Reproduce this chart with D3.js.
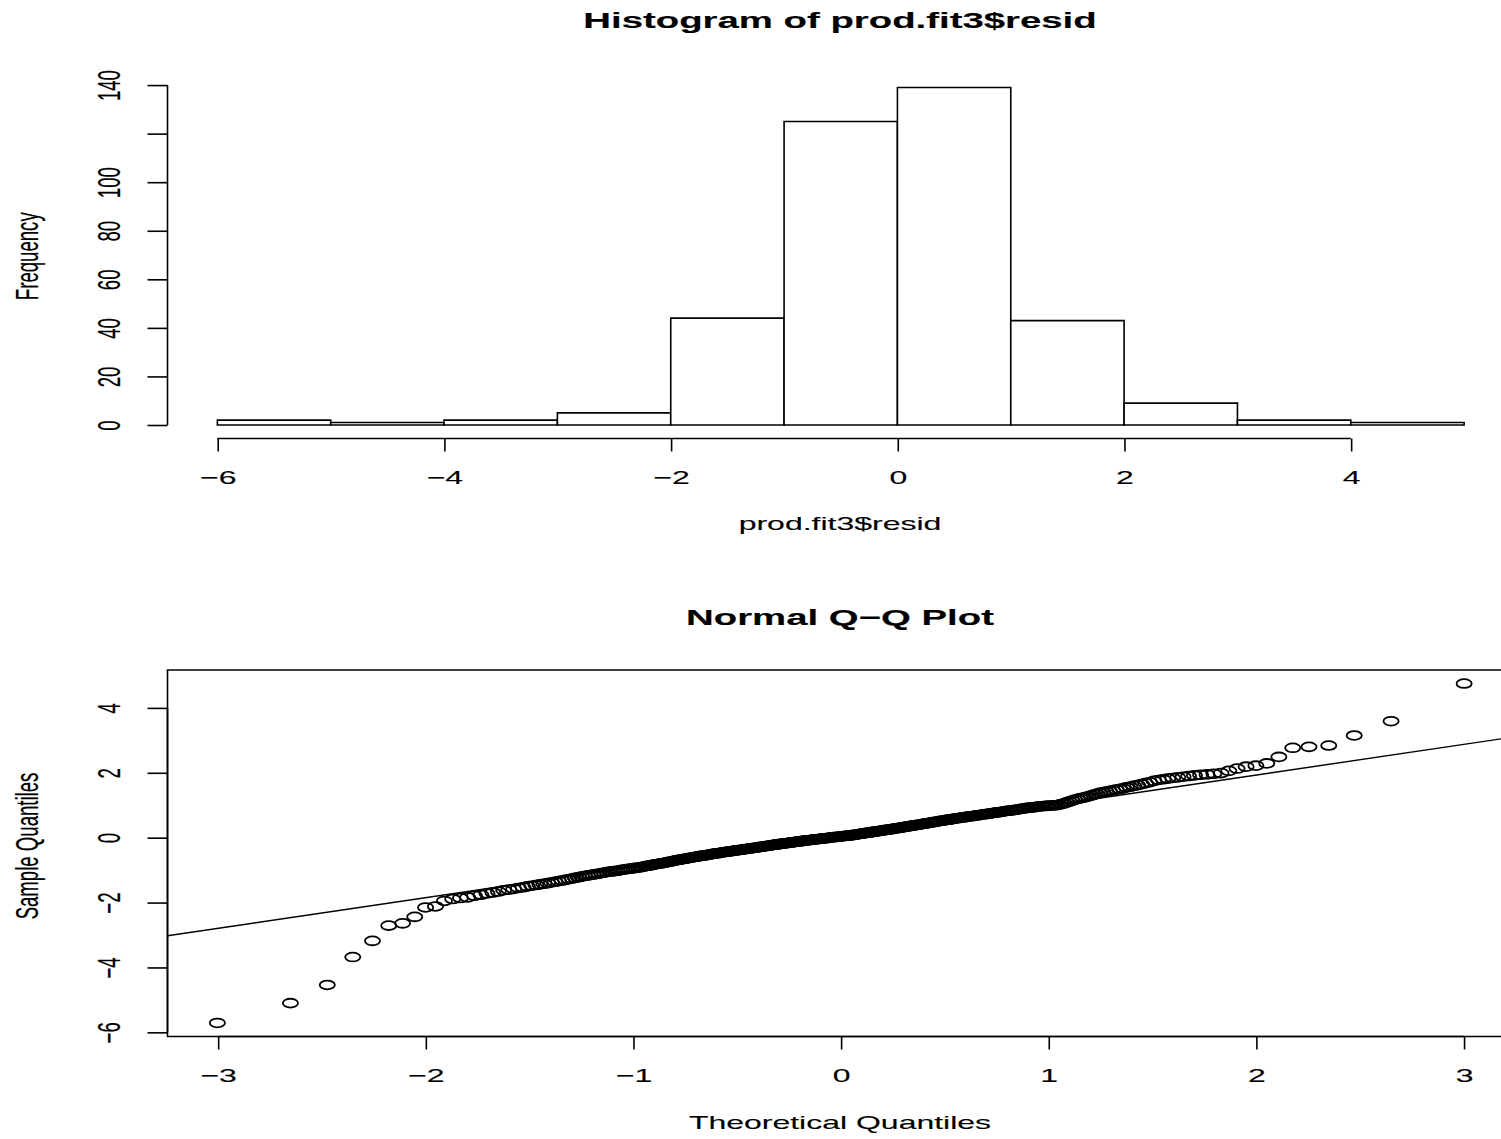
<!DOCTYPE html>
<html>
<head>
<meta charset="utf-8">
<script src="https://cdn.jsdelivr.net/npm/d3@7"></script>
<style>
html, body { margin: 0; padding: 0; background: #fff; overflow: hidden; }
svg { display: block; }
text { font-family: "Liberation Sans", Arial, Helvetica, sans-serif; fill: #000; stroke: #000; stroke-width: 0.12; }
</style>
</head>
<body>
<div id="chart"></div>
<script>
const WIDTH = 1501;
const HEIGHT = 1139;
// the source picture is stretched sideways, so draw in narrow units and let the viewBox widen it
const STRETCH = 1.72;
const sx = v => v / STRETCH;

const FONT = 18.6;
const TITLE_FONT = 22.3;
const LINE_W = 1.6;

// histogram of prod.fit3$resid
const histBreaks = [-6, -5, -4, -3, -2, -1, 0, 1, 2, 3, 4, 5];
const histCounts = [2, 1, 2, 5, 44, 125, 139, 43, 9, 2, 1];
const histXTicks = [-6, -4, -2, 0, 2, 4];
const histYTicks = [0, 20, 40, 60, 80, 100, 120, 140];
const histYTickLabels = ['0', '20', '40', '60', '80', '100', '', '140'];

// sorted residuals
const sampleQuantiles = [
	-5.71, -5.10, -4.54, -3.68, -3.18, -2.71, -2.64, -2.44, -2.15, -2.12,
	-1.95, -1.89, -1.86, -1.84, -1.79, -1.76, -1.72, -1.69, -1.66, -1.62,
	-1.60, -1.58, -1.55, -1.53, -1.50, -1.48, -1.46, -1.44, -1.42, -1.40,
	-1.38, -1.36, -1.34, -1.32, -1.30, -1.28, -1.26, -1.24, -1.22, -1.20,
	-1.18, -1.17, -1.15, -1.14, -1.12, -1.11, -1.09, -1.08, -1.06, -1.05,
	-1.04, -1.03, -1.02, -1.01,
	-0.99, -0.98, -0.97, -0.96, -0.95, -0.94,
	-0.93, -0.92, -0.91, -0.90, -0.88, -0.87, -0.86, -0.85, -0.83, -0.82,
	-0.81, -0.80, -0.79, -0.78, -0.77, -0.75, -0.74, -0.73, -0.72, -0.70,
	-0.69, -0.68, -0.67, -0.66, -0.65, -0.64, -0.63, -0.62, -0.61, -0.60,
	-0.59, -0.58, -0.57, -0.56, -0.55, -0.55, -0.54, -0.53, -0.52, -0.51,
	-0.50, -0.49, -0.48, -0.48, -0.47, -0.46, -0.45, -0.44, -0.44, -0.43,
	-0.42, -0.42, -0.41, -0.40, -0.39, -0.39, -0.38, -0.37, -0.37, -0.36,
	-0.35, -0.35, -0.34, -0.33, -0.33, -0.32, -0.31, -0.31, -0.30, -0.29,
	-0.28, -0.28, -0.27, -0.26, -0.26, -0.25, -0.24, -0.24, -0.23, -0.22,
	-0.21, -0.21, -0.20, -0.20, -0.19, -0.18, -0.18, -0.17, -0.17, -0.16,
	-0.15, -0.15, -0.14, -0.14, -0.13, -0.12, -0.12, -0.11, -0.11, -0.10,
	-0.09, -0.09, -0.08, -0.08, -0.07, -0.07, -0.06, -0.06, -0.05, -0.05,
	-0.04, -0.04, -0.03, -0.03, -0.02, -0.02, -0.01, -0.01, 0.00,
	0.01, 0.01, 0.02, 0.02, 0.02, 0.03, 0.03, 0.04, 0.04, 0.05, 0.05,
	0.06, 0.06, 0.07, 0.07, 0.08, 0.08, 0.09, 0.10, 0.10, 0.11,
	0.12, 0.12, 0.13, 0.14, 0.14, 0.15, 0.16, 0.16, 0.17, 0.18,
	0.18, 0.19, 0.20, 0.20, 0.21, 0.22, 0.22, 0.23, 0.24, 0.24,
	0.25, 0.26, 0.26, 0.27, 0.28, 0.29, 0.29, 0.30, 0.31, 0.31,
	0.32, 0.33, 0.34, 0.34, 0.35, 0.36, 0.37, 0.37, 0.38, 0.39,
	0.40, 0.40, 0.41, 0.42, 0.43, 0.44, 0.44, 0.45, 0.46, 0.47,
	0.48, 0.48, 0.49, 0.50, 0.51, 0.52, 0.52, 0.53, 0.54, 0.55,
	0.56, 0.56, 0.57, 0.58, 0.59, 0.60, 0.60, 0.61, 0.62, 0.63,
	0.63, 0.64, 0.65, 0.66, 0.66, 0.67, 0.68, 0.69, 0.69, 0.70,
	0.71, 0.72, 0.73, 0.73, 0.74, 0.75, 0.76, 0.77, 0.78, 0.78,
	0.79, 0.80, 0.81, 0.82, 0.83, 0.84, 0.84, 0.85, 0.86, 0.87,
	0.88, 0.89, 0.90, 0.91, 0.92, 0.93, 0.93, 0.94, 0.95, 0.96,
	0.97, 0.97, 0.98, 0.98, 0.99, 0.99, 1.00, 1.00,
	1.02, 1.04, 1.06, 1.09, 1.11, 1.14, 1.17, 1.19, 1.21, 1.23,
	1.25, 1.27, 1.30, 1.33, 1.35, 1.38, 1.40, 1.42, 1.44, 1.46,
	1.48, 1.50, 1.52, 1.55, 1.57, 1.60, 1.62, 1.65, 1.68, 1.71,
	1.75, 1.78, 1.80, 1.82, 1.84, 1.86, 1.88, 1.90, 1.92, 1.94,
	1.95, 1.97, 1.99,
	2.06, 2.13, 2.19, 2.22, 2.29, 2.49, 2.77, 2.80, 2.84, 3.15, 3.59, 4.75
];
const qqXTicks = [-3, -2, -1, 0, 1, 2, 3];
const qqYTicks = [-6, -4, -2, 0, 2, 4];
// reference line through the quartiles
const qqLineIntercept = 0.04;
const qqLineSlope = 0.945;

// plot regions, in picture pixels
const PLOT_LEFT = 167.5;
const PLOT_RIGHT = 1514;
const HIST_TOP = 74;
const HIST_BOTTOM = 438.5;
const QQ_TOP = 670;
const QQ_BOTTOM = 1036.5;
const CENTER_X = 840;

// R pads each axis range by 4%
function padded(ext) {
	const pad = (ext[1] - ext[0]) * 0.04;
	return [ext[0] - pad, ext[1] + pad];
}

// inverse normal cdf (Acklam)
function qnorm(p) {
	const a = [-3.969683028665376e+01, 2.209460984245205e+02, -2.759285104469687e+02, 1.383577518672690e+02, -3.066479806614716e+01, 2.506628277459239e+00];
	const b = [-5.447609879822406e+01, 1.615858368580409e+02, -1.556989798598866e+02, 6.680131188771972e+01, -1.328068155288572e+01];
	const c = [-7.784894002430293e-03, -3.223964580411365e-01, -2.400758277161838e+00, -2.549732539343734e+00, 4.374664141464968e+00, 2.938163982698783e+00];
	const d = [7.784695709041462e-03, 3.224671290700398e-01, 2.445134137142996e+00, 3.754408661907416e+00];
	const low = 0.02425;
	let q, r;
	if (p < low) {
		q = Math.sqrt(-2 * Math.log(p));
		return (((((c[0] * q + c[1]) * q + c[2]) * q + c[3]) * q + c[4]) * q + c[5]) / ((((d[0] * q + d[1]) * q + d[2]) * q + d[3]) * q + 1);
	}
	if (p > 1 - low) {
		q = Math.sqrt(-2 * Math.log(1 - p));
		return -(((((c[0] * q + c[1]) * q + c[2]) * q + c[3]) * q + c[4]) * q + c[5]) / ((((d[0] * q + d[1]) * q + d[2]) * q + d[3]) * q + 1);
	}
	q = p - 0.5;
	r = q * q;
	return (((((a[0] * r + a[1]) * r + a[2]) * r + a[3]) * r + a[4]) * r + a[5]) * q / (((((b[0] * r + b[1]) * r + b[2]) * r + b[3]) * r + b[4]) * r + 1);
}

const svg = d3.select('#chart').append('svg')
	.attr('width', WIDTH)
	.attr('height', HEIGHT)
	.attr('viewBox', `0 0 ${sx(WIDTH)} ${HEIGHT}`)
	.attr('preserveAspectRatio', 'none');

function styleAxis(g) {
	g.selectAll('line, path')
		.attr('stroke', '#000')
		.attr('stroke-width', LINE_W)
		.attr('vector-effect', 'non-scaling-stroke');
	g.selectAll('text')
		.attr('font-size', FONT)
		.attr('fill', '#000');
	g.attr('font-family', null).attr('font-size', null);
}

function bottomAxis(scale, ticks, y) {
	const g = svg.append('g')
		.attr('transform', `translate(0,${y})`)
		.call(d3.axisBottom(scale).tickValues(ticks).tickSize(13).tickSizeOuter(0)
			.tickFormat(d => String(d).replace('-', '\u2212')));
	// R draws the axis line only between the outer ticks
	g.select('.domain').attr('d', `M${scale(ticks[0])},0H${scale(ticks[ticks.length - 1])}`);
	g.selectAll('.tick text').attr('y', 46).attr('dy', null);
	styleAxis(g);
	return g;
}

function leftAxis(scale, ticks, labels, x) {
	const g = svg.append('g')
		.attr('transform', `translate(${sx(x)},0)`)
		.call(d3.axisLeft(scale).tickValues(ticks).tickSize(sx(20)).tickSizeOuter(0)
			.tickFormat((d, i) => labels[i]));
	g.select('.domain').attr('d', `M0,${scale(ticks[0])}V${scale(ticks[ticks.length - 1])}`);
	g.selectAll('.tick text')
		.attr('x', null).attr('dy', null)
		.attr('text-anchor', 'middle')
		.attr('transform', `translate(${-sx(48)},0) rotate(-90)`);
	styleAxis(g);
	return g;
}

function label(txt, x, y, opts = {}) {
	const t = svg.append('text')
		.attr('text-anchor', 'middle')
		.attr('font-size', opts.size || FONT)
		.attr('font-weight', opts.bold ? 'bold' : null)
		.text(txt);
	if (opts.rotate) {
		t.attr('transform', `translate(${sx(x)},${y}) rotate(-90)`);
	} else {
		t.attr('x', sx(x)).attr('y', y);
	}
	return t;
}

// ---- histogram ----
const histX = d3.scaleLinear()
	.domain(padded(d3.extent(histBreaks)))
	.range([sx(PLOT_LEFT), sx(PLOT_RIGHT)]);
const histY = d3.scaleLinear()
	.domain(padded([0, d3.max(histCounts)]))
	.range([HIST_BOTTOM, HIST_TOP]);

svg.append('g').selectAll('rect')
	.data(histCounts)
	.enter()
	.append('rect')
		.attr('x', (d, i) => histX(histBreaks[i]))
		.attr('width', (d, i) => histX(histBreaks[i + 1]) - histX(histBreaks[i]))
		.attr('y', d => histY(d))
		.attr('height', d => histY(0) - histY(d))
		.attr('fill', '#fff')
		.attr('stroke', '#000')
		.attr('stroke-width', LINE_W)
		.attr('vector-effect', 'non-scaling-stroke');

bottomAxis(histX, histXTicks, HIST_BOTTOM);
leftAxis(histY, histYTicks, histYTickLabels, PLOT_LEFT);

label('Histogram of prod.fit3$resid', CENTER_X, 28.3, { size: TITLE_FONT, bold: true });
label('prod.fit3$resid', CENTER_X, 530.5);
label('Frequency', 38, (HIST_TOP + HIST_BOTTOM) / 2, { rotate: true });

// ---- normal Q-Q plot ----
const n = sampleQuantiles.length;
const qqPoints = sampleQuantiles.map((v, i) => ({
	theo: qnorm((i + 1 - 0.5) / n),
	sample: v
}));

const qqX = d3.scaleLinear()
	.domain(padded(d3.extent(qqPoints, d => d.theo)))
	.range([sx(PLOT_LEFT), sx(PLOT_RIGHT)]);
const qqY = d3.scaleLinear()
	.domain(padded(d3.extent(qqPoints, d => d.sample)))
	.range([QQ_BOTTOM, QQ_TOP]);

svg.append('clipPath').attr('id', 'qq-clip')
	.append('rect')
		.attr('x', qqX.range()[0])
		.attr('y', QQ_TOP)
		.attr('width', qqX.range()[1] - qqX.range()[0])
		.attr('height', QQ_BOTTOM - QQ_TOP);

svg.append('g').attr('class', 'points')
	.selectAll('circle')
	.data(qqPoints)
	.enter()
	.append('circle')
		.attr('cx', d => qqX(d.theo))
		.attr('cy', d => qqY(d.sample))
		.attr('r', 4.4)
		.attr('fill', 'none')
		.attr('stroke', '#000')
		.attr('stroke-width', 1.8)
		.attr('vector-effect', 'non-scaling-stroke');

const lineEnds = qqX.domain();
svg.append('line')
	.attr('clip-path', 'url(#qq-clip)')
	.attr('x1', qqX(lineEnds[0]))
	.attr('y1', qqY(qqLineIntercept + qqLineSlope * lineEnds[0]))
	.attr('x2', qqX(lineEnds[1]))
	.attr('y2', qqY(qqLineIntercept + qqLineSlope * lineEnds[1]))
	.attr('stroke', '#000')
	.attr('stroke-width', 1.4)
	.attr('vector-effect', 'non-scaling-stroke');

svg.append('rect')
	.attr('x', qqX.range()[0])
	.attr('y', QQ_TOP)
	.attr('width', qqX.range()[1] - qqX.range()[0])
	.attr('height', QQ_BOTTOM - QQ_TOP)
	.attr('fill', 'none')
	.attr('stroke', '#000')
	.attr('stroke-width', LINE_W)
	.attr('vector-effect', 'non-scaling-stroke');

bottomAxis(qqX, qqXTicks, QQ_BOTTOM);
leftAxis(qqY, qqYTicks, qqYTicks.map(d => String(d).replace('-', '\u2212')), PLOT_LEFT);

label('Normal Q\u2212Q Plot', CENTER_X, 625, { size: TITLE_FONT, bold: true });
label('Theoretical Quantiles', CENTER_X, 1129.5);
label('Sample Quantiles', 38, 846, { rotate: true });
</script>
</body>
</html>
